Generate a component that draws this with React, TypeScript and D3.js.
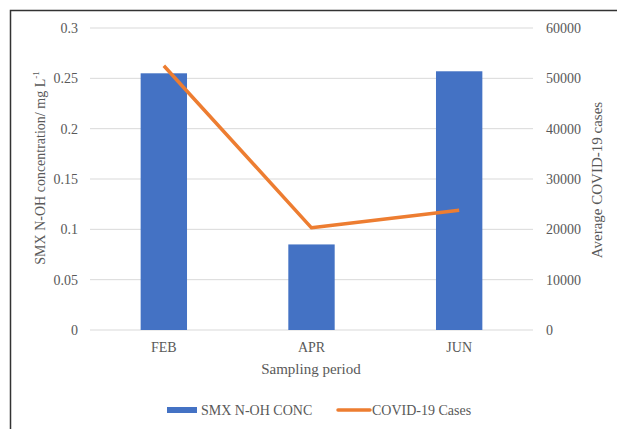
import React from "react";
import * as d3 from "d3";

const categories = ["FEB", "APR", "JUN"];
const smxConc = [0.255, 0.085, 0.257];
const covidCases = [52500, 20300, 23800];
const leftTicks = [0, 0.05, 0.1, 0.15, 0.2, 0.25, 0.3];
const rightTicks = [0, 10000, 20000, 30000, 40000, 50000, 60000];

const W = 617;
const H = 429;
const plot = { left: 90, right: 533, top: 28, bottom: 330 };
const font = "Liberation Serif, Tinos, Times New Roman, DejaVu Serif, serif";
const textColor = "#595959";
const ts: React.CSSProperties = { fontFamily: font };

export default function App() {
  const x = d3
    .scaleBand<string>()
    .domain(categories)
    .range([plot.left, plot.right])
    .paddingInner(0.686)
    .paddingOuter(0.343);
  const yL = d3.scaleLinear().domain([0, 0.3]).range([plot.bottom, plot.top]);
  const yR = d3.scaleLinear().domain([0, 60000]).range([plot.bottom, plot.top]);
  const cx = (c: string) => (x(c) as number) + x.bandwidth() / 2;
  const line = d3
    .line<number>()
    .x((_, i) => cx(categories[i]))
    .y((d) => yR(d));

  return (
    <svg
      width={W}
      height={H}
      style={{ position: "absolute", left: 0, top: 0, background: "#fff", fontFamily: font }}
    >
      <rect x={0} y={0} width={W} height={H} fill="#fff" />
      <path d={`M10.5,${H} V10.5 H${W}`} fill="none" stroke="#333" strokeWidth={1.5} />
      {leftTicks.map((t) => (
        <line
          key={t}
          x1={plot.left}
          x2={plot.right}
          y1={yL(t)}
          y2={yL(t)}
          stroke="#d9d9d9"
          strokeWidth={1}
        />
      ))}
      {categories.map((c, i) => (
        <rect
          key={c}
          x={x(c)}
          y={yL(smxConc[i])}
          width={x.bandwidth()}
          height={yL(0) - yL(smxConc[i])}
          fill="#4472C4"
        />
      ))}
      <path
        d={line(covidCases) || ""}
        fill="none"
        stroke="#ED7D31"
        strokeWidth={3.5}
        strokeLinejoin="round"
      />
      {leftTicks.map((t) => (
        <text
          key={t}
          x={78}
          y={yL(t)}
          dy="0.35em"
          textAnchor="end"
          fontSize={14}
          fill={textColor}
          style={ts}
        >
          {String(t)}
        </text>
      ))}
      {rightTicks.map((t) => (
        <text
          key={t}
          x={546}
          y={yR(t)}
          dy="0.35em"
          textAnchor="start"
          fontSize={14}
          fill={textColor}
          style={ts}
        >
          {String(t)}
        </text>
      ))}
      {categories.map((c) => (
        <text
          key={c}
          x={cx(c)}
          y={352}
          textAnchor="middle"
          fontSize={14}
          fill={textColor}
          style={ts}
        >
          {c}
        </text>
      ))}
      <text x={311} y={374} textAnchor="middle" fontSize={15} fill={textColor} style={ts}>
        Sampling period
      </text>
      <text
        transform={`translate(45,${168}) rotate(-90)`}
        textAnchor="middle"
        fontSize={14}
        fill={textColor}
        style={ts}
      >
        SMX N-OH concentration/ mg L
        <tspan fontSize={9} dy={-6}>-1</tspan>
      </text>
      <text
        transform={`translate(602,${180}) rotate(-90)`}
        textAnchor="middle"
        fontSize={15}
        fill={textColor}
        style={ts}
      >
        Average COVID-19 cases
      </text>
      <rect x={167} y={407} width={30} height={6} fill="#4472C4" />
      <text x={201} y={415} fontSize={14} fill={textColor} style={ts}>
        SMX N-OH CONC
      </text>
      <line
        x1={338}
        x2={370}
        y1={410}
        y2={410}
        stroke="#ED7D31"
        strokeWidth={3.5}
        strokeLinecap="round"
      />
      <text x={372} y={415} fontSize={14} fill={textColor} style={ts}>
        COVID-19 Cases
      </text>
    </svg>
  );
}
